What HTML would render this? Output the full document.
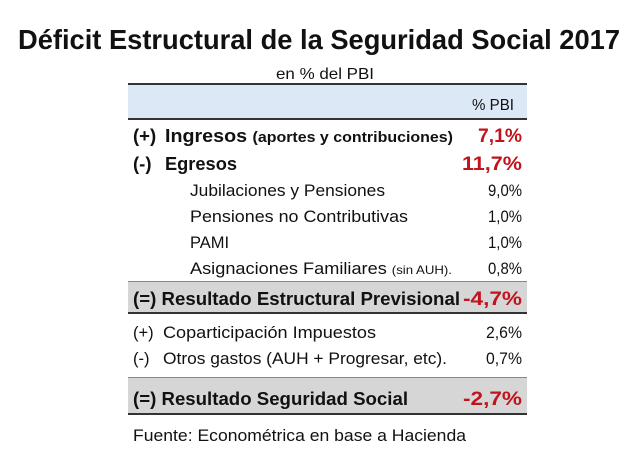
<!DOCTYPE html>
<html><head><meta charset="utf-8"><style>
body{margin:0;background:#fff}
svg{display:block}
text{font-family:"Liberation Sans",sans-serif;fill:#111}
.b{font-weight:bold}
.r{fill:#c0141c;font-weight:bold}
</style></head><body>
<svg width="638" height="454" viewBox="0 0 638 454">
<text x="18" y="49" font-size="28" class="b" textLength="602" lengthAdjust="spacingAndGlyphs">Déficit Estructural de la Seguridad Social 2017</text>
<text x="276" y="79" font-size="16" textLength="98" lengthAdjust="spacingAndGlyphs">en % del PBI</text>
<rect x="128" y="84" width="399" height="35" fill="#dce8f5"/>
<rect x="128" y="83" width="399" height="2" fill="#333"/>
<rect x="128" y="118" width="399" height="2" fill="#333"/>
<text x="472" y="110" font-size="16" textLength="42" lengthAdjust="spacingAndGlyphs">% PBI</text>

<text x="133" y="142" font-size="18.5" class="b">(+)</text>
<text x="165" y="142" font-size="18.5" class="b" textLength="288" lengthAdjust="spacingAndGlyphs">Ingresos <tspan font-size="15">(aportes y contribuciones)</tspan></text>
<text x="522" y="142" font-size="19" class="r" text-anchor="end" textLength="44" lengthAdjust="spacingAndGlyphs">7,1%</text>

<text x="133" y="170" font-size="18.5" class="b">(-)</text>
<text x="165" y="170" font-size="18.5" class="b" textLength="72" lengthAdjust="spacingAndGlyphs">Egresos</text>
<text x="522" y="170" font-size="19" class="r" text-anchor="end" textLength="60" lengthAdjust="spacingAndGlyphs">11,7%</text>

<g font-size="16.5">
<text x="190" y="196" textLength="195" lengthAdjust="spacingAndGlyphs">Jubilaciones y Pensiones</text>
<text x="522" y="196" text-anchor="end" textLength="34" lengthAdjust="spacingAndGlyphs">9,0%</text>
<text x="190" y="222" textLength="218" lengthAdjust="spacingAndGlyphs">Pensiones no Contributivas</text>
<text x="522" y="222" text-anchor="end" textLength="34" lengthAdjust="spacingAndGlyphs">1,0%</text>
<text x="190" y="248">PAMI</text>
<text x="522" y="248" text-anchor="end" textLength="34" lengthAdjust="spacingAndGlyphs">1,0%</text>
<text x="190" y="274" textLength="262" lengthAdjust="spacingAndGlyphs">Asignaciones Familiares <tspan font-size="12">(sin AUH).</tspan></text>
<text x="522" y="274" text-anchor="end" textLength="34" lengthAdjust="spacingAndGlyphs">0,8%</text>
</g>

<rect x="128" y="281" width="399" height="32" fill="#d6d6d6"/>
<rect x="128" y="281" width="399" height="1" fill="#888"/>
<rect x="128" y="312" width="399" height="2" fill="#333"/>
<text x="133" y="305" font-size="18.5" class="b" textLength="327" lengthAdjust="spacingAndGlyphs">(=) Resultado Estructural Previsional</text>
<text x="522" y="305" font-size="19" class="r" text-anchor="end" textLength="59" lengthAdjust="spacingAndGlyphs">-4,7%</text>

<g font-size="16.5">
<text x="133" y="338">(+)</text>
<text x="163" y="338" textLength="213" lengthAdjust="spacingAndGlyphs">Coparticipación Impuestos</text>
<text x="522" y="338" text-anchor="end" textLength="36" lengthAdjust="spacingAndGlyphs">2,6%</text>
<text x="133" y="364">(-)</text>
<text x="163" y="364" textLength="284" lengthAdjust="spacingAndGlyphs">Otros gastos (AUH + Progresar, etc).</text>
<text x="522" y="364" text-anchor="end" textLength="36" lengthAdjust="spacingAndGlyphs">0,7%</text>
</g>

<rect x="128" y="378" width="399" height="36" fill="#d6d6d6"/>
<rect x="128" y="377" width="399" height="1" fill="#888"/>
<rect x="128" y="413" width="399" height="2" fill="#333"/>
<text x="133" y="405" font-size="18.5" class="b" textLength="275" lengthAdjust="spacingAndGlyphs">(=) Resultado Seguridad Social</text>
<text x="522" y="405" font-size="19" class="r" text-anchor="end" textLength="59" lengthAdjust="spacingAndGlyphs">-2,7%</text>

<text x="133" y="441" font-size="16.5" textLength="333" lengthAdjust="spacingAndGlyphs">Fuente: Econométrica en base a Hacienda</text>
</svg>
</body></html>
